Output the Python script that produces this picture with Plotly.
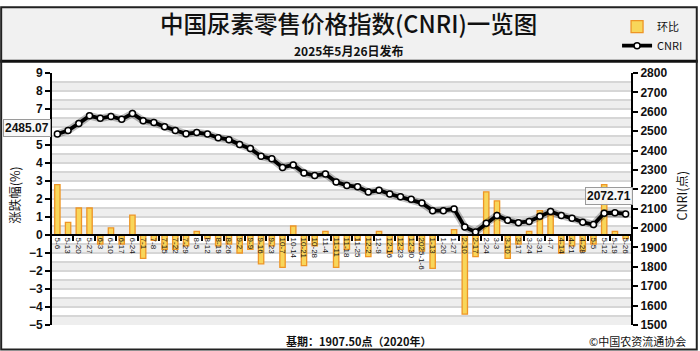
import plotly.graph_objects as go

weeks = ["5-6", "5-13", "5-20", "5-27", "6-3", "6-10", "6-17", "6-24", "7-1", "7-8",
         "7-15", "7-22", "7-29", "8-5", "8-12", "8-19", "8-26", "9-2", "9-9", "9-16",
         "9-23", "10-7", "10-14", "10-21", "10-28", "11-4", "11-11", "11-18", "11-25", "12-2",
         "12-9", "12-16", "12-23", "12-30", "2025-1-6", "1-13", "1-20", "1-27", "2-10", "2-17",
         "2-24", "3-3", "3-10", "3-17", "3-24", "3-31", "4-7", "4-14", "4-21", "4-28",
         "5-5", "5-12", "5-19", "5-26"]

mom_pct = [2.8, 0.7, 1.5, 1.5, -0.5, 0.4, -0.5, 1.1, -1.3, -0.3,
           -0.8, -0.8, -0.6, 0.2, -0.2, -0.6, -0.5, -1.0, -0.8, -1.6,
           -0.6, -1.8, 0.5, -1.7, -0.6, 0.2, -1.8, -0.8, -0.3, -1.2,
           0.2, -1.0, -0.8, -0.9, -0.9, -1.85, 0.0, 0.3, -4.4, -1.2,
           2.4, 1.9, -1.3, -0.5, 0.2, 1.35, 1.1, -1.0, -0.6, -0.9,
           -0.5, 2.8, 0.2, -0.2]

cnri = [2485.07, 2503, 2540, 2579, 2566, 2576, 2561, 2591, 2554, 2545,
        2523, 2503, 2486, 2493, 2485, 2466, 2456, 2431, 2410, 2370,
        2357, 2313, 2326, 2284, 2271, 2279, 2238, 2220, 2213, 2186,
        2195, 2176, 2161, 2149, 2129, 2090, 2090, 2099, 2005, 1980,
        2025, 2065, 2040, 2028, 2034, 2061, 2085, 2065, 2051, 2030,
        2018, 2077, 2079, 2072.71]

left_ticks = list(range(-5, 10))
right_ticks = list(range(1500, 2801, 100))

# plot-area geometry in pixels (for decoration placement)
W, H = 700, 351
ML, MR, MT, MB = 52, 67, 68, 26
PW, PH = W - ML - MR, H - MT - MB

def px(x):
    return (x - ML) / PW

def py(y):
    return (H - MB - y) / PH

FONT = "Liberation Sans, Noto Sans CJK SC, sans-serif"
CJK = "Noto Sans CJK SC, sans-serif"

fig = go.Figure()

fig.add_trace(go.Bar(
    x=weeks, y=mom_pct, name="环比", width=0.5,
    marker=dict(color="#f8d65a", line=dict(color="#ee9526", width=1.3)),
    xaxis="x", yaxis="y",
))

# dummy trace so the tick-mark axis is drawn
fig.add_trace(go.Scatter(x=[0], y=[None], xaxis="x2", yaxis="y",
                         showlegend=False, hoverinfo="skip"))

fig.add_trace(go.Scatter(
    x=weeks, y=cnri, name="CNRI", mode="lines",
    line=dict(color="rgba(0,0,0,0.25)", width=7.5),
    showlegend=False, hoverinfo="skip", xaxis="x", yaxis="y2",
))
fig.add_trace(go.Scatter(
    x=weeks, y=cnri, name="CNRI", mode="lines+markers",
    line=dict(color="black", width=3.8),
    marker=dict(size=6, color="white", line=dict(color="black", width=1.5)),
    xaxis="x", yaxis="y2",
))

shapes = []
# header band
shapes.append(dict(type="rect", xref="paper", yref="paper",
                   x0=px(0), x1=px(W), y0=py(55), y1=py(0),
                   fillcolor="#f1f1f1", line=dict(width=0), layer="below"))
shapes.append(dict(type="line", xref="paper", yref="paper",
                   x0=px(0), x1=px(W), y0=py(56), y1=py(56),
                   line=dict(color="#111", width=3), layer="above"))
# alternating bands
for k in range(left_ticks[0], left_ticks[-1]):
    shapes.append(dict(type="rect", xref="paper", yref="y",
                       x0=0, x1=1, y0=k, y1=k + 0.5,
                       fillcolor="#eeeeee", line=dict(width=0), layer="below"))
# outer frame
shapes.append(dict(type="rect", xref="paper", yref="paper",
                   x0=px(1), x1=px(W - 1), y0=py(H - 1), y1=py(1),
                   line=dict(color="#222", width=2), layer="above"))

odd_bounds = [i + 0.5 for i in range(1, len(weeks), 2)]

annotations = [
    dict(text="中国尿素零售价格指数(CNRI)一览图", xref="paper", yref="paper",
         x=px(350), y=py(17), showarrow=False, xanchor="center", yanchor="middle",
         font=dict(family=CJK, size=23.5, color="#111", weight=500)),
    dict(text="2025年5月26日发布", xref="paper", yref="paper",
         x=px(350), y=py(45), showarrow=False, xanchor="center", yanchor="middle",
         font=dict(family=CJK, size=12, color="#111", weight="bold")),
    dict(text="涨跌幅(%)", xref="paper", yref="paper", x=px(14), y=py(193),
         textangle=-90, showarrow=False, xanchor="center", yanchor="middle",
         font=dict(family=CJK, size=12.5, color="#111")),
    dict(text="CNRI(点)", xref="paper", yref="paper", x=px(684), y=py(193),
         textangle=-90, showarrow=False, xanchor="center", yanchor="middle",
         font=dict(family=CJK, size=12.5, color="#111")),
    dict(text="基期：1907.50点（2020年）", xref="paper", yref="paper",
         x=px(360), y=py(341), showarrow=False, xanchor="center", yanchor="middle",
         font=dict(family=CJK, size=11, color="#111", weight="bold")),
    dict(text="©中国农资流通协会", xref="paper", yref="paper",
         x=px(690), y=py(341), showarrow=False, xanchor="right", yanchor="middle",
         font=dict(family=CJK, size=11, color="#111")),
    dict(text="<b>%.2f</b>" % cnri[0], x=weeks[0], y=cnri[0], xref="x", yref="y2",
         showarrow=False, xanchor="right", yanchor="middle", xshift=-6, yshift=6,
         bgcolor="rgba(248,248,248,1)", bordercolor="#9a9a9a", borderwidth=1,
         borderpad=1, font=dict(family=FONT, size=12, color="#111")),
    dict(text="<b>%.2f</b>" % cnri[-1], x=weeks[-1], y=cnri[-1], xref="x", yref="y2",
         showarrow=False, xanchor="center", yanchor="bottom", xshift=-17, yshift=9,
         bgcolor="rgba(248,248,248,0.95)", bordercolor="#9a9a9a", borderwidth=1,
         borderpad=1, font=dict(family=FONT, size=12, color="#111")),
]

fig.update_layout(
    width=W, height=H, autosize=False,
    margin=dict(l=ML, r=MR, t=MT, b=MB, pad=0),
    paper_bgcolor="white", plot_bgcolor="white",
    font=dict(family=FONT, color="#111"),
    showlegend=True,
    legend=dict(x=px(619), y=py(6), xanchor="left", yanchor="top",
                bgcolor="rgba(0,0,0,0)", font=dict(family=CJK, size=11),
                itemwidth=30, tracegroupgap=0),
    xaxis=dict(type="category", categoryorder="array", categoryarray=weeks,
               range=[-0.5, len(weeks) - 0.5], anchor="free",
               position=(0 - left_ticks[0]) / (left_ticks[-1] - left_ticks[0]),
               showline=True, linecolor="black", linewidth=2, ticks="",
               tickangle=90, tickfont=dict(family=FONT, size=8, color="#111"),
               showgrid=False, zeroline=False),
    xaxis2=dict(type="linear", overlaying="x", range=[-0.5, len(weeks) - 0.5],
                anchor="free",
                position=(0 - left_ticks[0]) / (left_ticks[-1] - left_ticks[0]),
                tickmode="array", tickvals=odd_bounds, ticks="outside",
                ticklen=5, tickwidth=2, tickcolor="black",
                showticklabels=False, showgrid=False, zeroline=False, showline=False),
    yaxis=dict(range=[left_ticks[0], left_ticks[-1]], tickmode="array",
               tickvals=left_ticks, ticks="outside", ticklen=5, tickwidth=2,
               tickcolor="black", showline=True, linecolor="black", linewidth=2,
               showgrid=True, gridcolor="#d6d6d6", gridwidth=1.5,
               minor=dict(dtick=0.5, tick0=0, showgrid=True, gridcolor="#d6d6d6",
                          gridwidth=1.5, ticks=""),
               zeroline=False,
               tickfont=dict(family=FONT, size=12, color="#111", weight="bold")),
    yaxis2=dict(range=[right_ticks[0], right_ticks[-1]], overlaying="y", side="right",
                tickmode="array", tickvals=right_ticks, ticks="outside", ticklen=5,
                tickwidth=2, tickcolor="black", showline=True, linecolor="black",
                linewidth=2, showgrid=False, zeroline=False,
                tickfont=dict(family=FONT, size=12, color="#111", weight="bold")),
    shapes=shapes,
    annotations=annotations,
)

fig.write_html("out.html")
